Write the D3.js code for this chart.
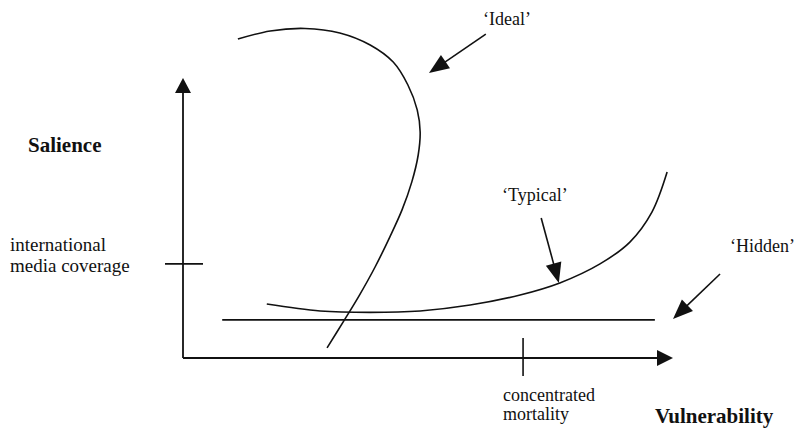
<!DOCTYPE html>
<html>
<head>
<meta charset="utf-8">
<script src="https://cdn.jsdelivr.net/npm/d3@7"></script>
<style>
  html, body { margin: 0; padding: 0; background: #fff; }
</style>
</head>
<body>
<div id="chart"></div>
<script>
// curve shapes (x = vulnerability, y = salience, 0-100)
var idealX   = [11.2, 17.8, 24.9, 32.0, 38.2, 42.9, 45.9, 47.8, 48.4, 48.0, 46.7, 44.7, 42.2, 39.2, 35.9, 32.7, 29.4];
var idealY   = [113.9, 116.8, 117.7, 116.1, 111.8, 105.7, 97.5, 88.6, 80.7, 72.5, 62.9, 52.9, 43.2, 32.5, 22.1, 12.9, 3.6];
var typicalX = [17.1, 28.0, 38.2, 48.4, 58.6, 68.8, 76.9, 85.1, 91.2, 95.7, 98.8];
var typicalY = [19.3, 16.8, 16.3, 16.8, 18.9, 22.5, 26.8, 33.6, 41.4, 52.1, 66.4];
var hiddenX  = [8.0, 96.3];
var hiddenY  = [13.6, 13.6];

// axis marks
var xTick = 69.4, xTickLabel = ["concentrated", "mortality"];
var yTick = 33.6, yTickLabel = ["international", "media coverage"];
var xTitle = "Vulnerability", yTitle = "Salience";

// labels with pointer arrows: [from x, from y, to x, to y]
var seriesNames  = ["\u2018Ideal\u2019", "\u2018Typical\u2019", "\u2018Hidden\u2019"];
var seriesArrows = [[61.8, 115.7, 50.2, 101.8], [73.1, 50.0, 76.7, 26.8], [109.6, 30.0, 100.0, 13.9]];

var width = 794, height = 430,
    serif = "'Liberation Serif', 'Times New Roman', Times, 'DejaVu Serif', serif";

var svg = d3.select("#chart").append("svg")
    .attr("width", width).attr("height", height)
    .attr("font-family", serif);

var x = d3.scaleLinear().domain([0, 100]).range([183, 673]);
var y = d3.scaleLinear().domain([0, 100]).range([358, 78]);

var line = d3.line()
    .x(function(d){ return x(d[0]); })
    .y(function(d){ return y(d[1]); })
    .curve(d3.curveCatmullRom.alpha(0.5));

function pts(xs, ys) { return xs.map(function(v, i){ return [v, ys[i]]; }); }

// arrowhead triangle with tip at (x2,y2)
function arrowHead(x1, y1, x2, y2, len, half) {
    var dx = x2 - x1, dy = y2 - y1, L = Math.sqrt(dx*dx + dy*dy);
    var ux = dx / L, uy = dy / L;
    var bx = x2 - ux*len, by = y2 - uy*len;
    return [[x2, y2], [bx - uy*half, by + ux*half], [bx + uy*half, by - ux*half]];
}

function arrow(x1, y1, x2, y2, len, half, sw) {
    var h = arrowHead(x1, y1, x2, y2, len, half);
    var dx = x2 - x1, dy = y2 - y1, L = Math.sqrt(dx*dx + dy*dy);
    svg.append("line")
        .attr("x1", x1).attr("y1", y1)
        .attr("x2", x2 - dx / L * (len - 2)).attr("y2", y2 - dy / L * (len - 2))
        .attr("stroke", "#111").attr("stroke-width", sw);
    svg.append("polygon")
        .attr("points", h.map(function(p){ return p.join(","); }).join(" "))
        .attr("fill", "#111");
}

// axes
arrow(x(0), y(0), x(0), y(100), 15, 8, 1.8);
arrow(x(0), y(0), x(100), y(0), 16, 8, 1.8);

// ticks
svg.append("line")
    .attr("x1", x(0) - 18).attr("x2", x(0) + 20)
    .attr("y1", y(yTick)).attr("y2", y(yTick))
    .attr("stroke", "#111").attr("stroke-width", 1.6);
svg.append("line")
    .attr("x1", x(xTick)).attr("x2", x(xTick))
    .attr("y1", y(0) - 20).attr("y2", y(0) + 18)
    .attr("stroke", "#111").attr("stroke-width", 1.6);

// curves
[pts(idealX, idealY), pts(typicalX, typicalY), pts(hiddenX, hiddenY)].forEach(function(d){
    svg.append("path")
        .attr("d", line(d))
        .attr("fill", "none")
        .attr("stroke", "#111")
        .attr("stroke-width", 1.6);
});

// pointer arrows
seriesArrows.forEach(function(a){
    arrow(x(a[0]), y(a[1]), x(a[2]), y(a[3]), 20, 8, 1.6);
});

// texts
var labelPos = [[483, 25], [502, 201], [730, 252]];
seriesNames.forEach(function(s, i){
    svg.append("text").attr("x", labelPos[i][0]).attr("y", labelPos[i][1])
        .attr("font-size", 18).attr("fill", "#111").text(s);
});

svg.append("text").attr("x", 28).attr("y", 152)
    .attr("font-size", 21).attr("font-weight", "bold").attr("fill", "#111").text(yTitle);
svg.append("text").attr("x", 655).attr("y", 423)
    .attr("font-size", 21).attr("font-weight", "bold").attr("fill", "#111").text(xTitle);

yTickLabel.forEach(function(s, i){
    svg.append("text").attr("x", 10).attr("y", 251 + i * 21)
        .attr("font-size", 19).attr("fill", "#111").text(s);
});
xTickLabel.forEach(function(s, i){
    svg.append("text").attr("x", 503).attr("y", 401 + i * 19)
        .attr("font-size", 18).attr("fill", "#111").text(s);
});
</script>
</body>
</html>
